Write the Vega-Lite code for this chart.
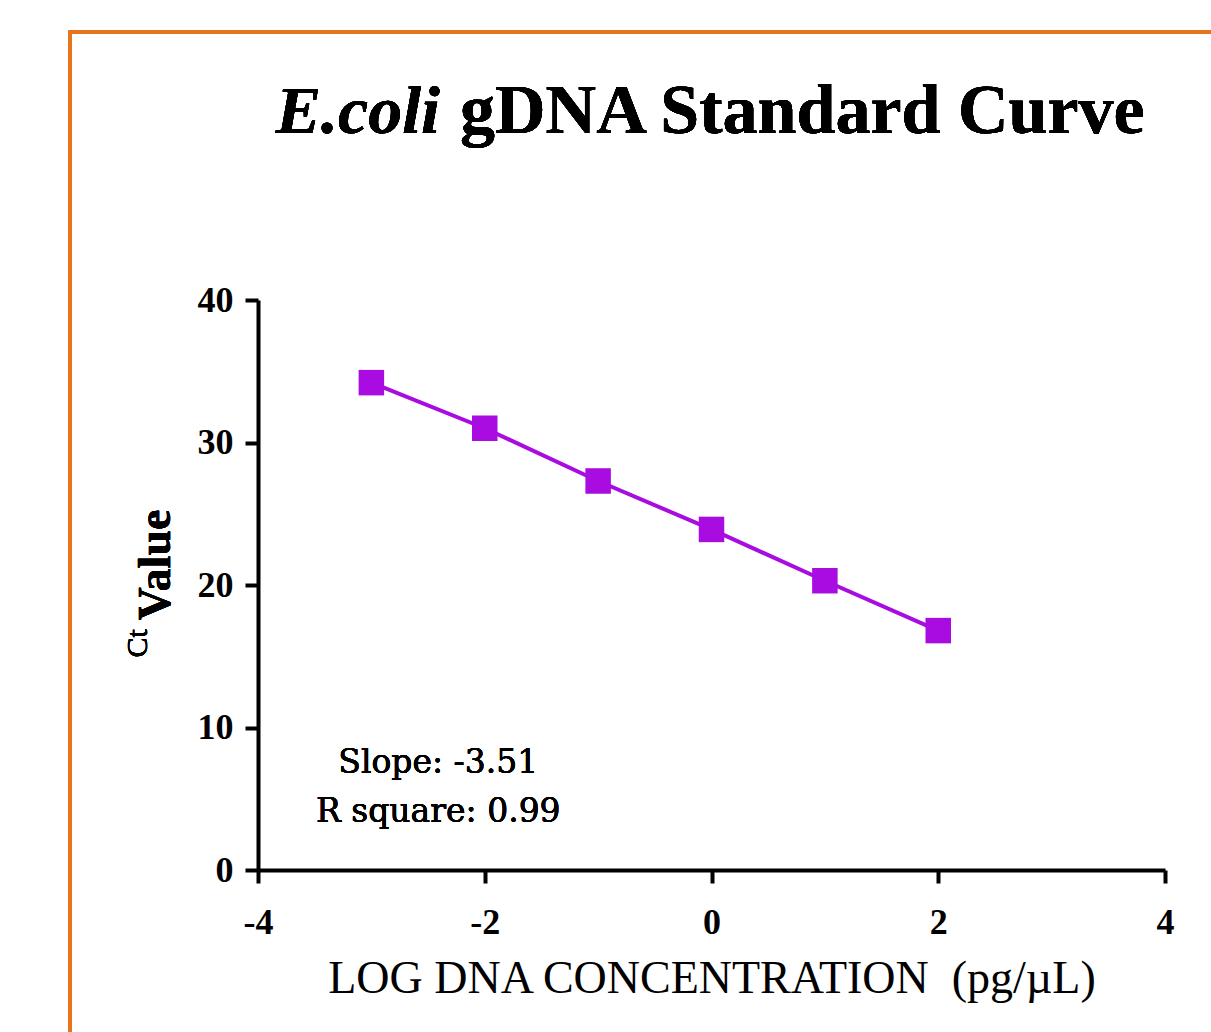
{
  "$schema": "https://vega.github.io/schema/vega-lite/v6.json",
  "autosize": "none",
  "width": 907,
  "height": 570,
  "padding": {"left": 258, "top": 300, "right": 46, "bottom": 162},
  "background": "white",
  "config": {"view": {"stroke": null}},
  "data": {"values": [
    {"logConc": -3, "ct": 34.2},
    {"logConc": -2, "ct": 31.0},
    {"logConc": -1, "ct": 27.3},
    {"logConc": 0, "ct": 23.9},
    {"logConc": 1, "ct": 20.3},
    {"logConc": 2, "ct": 16.8}
  ]},
  "encoding": {
    "x": {"field": "logConc", "type": "quantitative",
      "scale": {"domain": [-4, 4], "nice": false, "zero": false},
      "axis": {"values": [-4, -2, 0, 2, 4], "grid": false, "domainColor": "black", "domainWidth": 4,
        "tickColor": "black", "tickWidth": 4, "tickSize": 13, "labelPadding": 22,
        "labelFont": "Liberation Serif", "labelFontWeight": "bold", "labelFontSize": 36, "labelColor": "black",
        "labelExpr": "'' + datum.value", "labelFlush": false,
        "title": "LOG DNA CONCENTRATION\u00a0\u00a0(pg/µL)", "titleFont": "Liberation Serif", "titleFontWeight": "normal",
        "titleFontSize": 46, "titleColor": "black", "titlePadding": 16}},
    "y": {"field": "ct", "type": "quantitative",
      "scale": {"domain": [0, 40], "nice": false},
      "axis": {"values": [0, 10, 20, 30, 40], "grid": false, "domainColor": "black", "domainWidth": 4,
        "tickColor": "black", "tickWidth": 4, "tickSize": 13, "labelPadding": 12,
        "labelFont": "Liberation Serif", "labelFontWeight": "bold", "labelFontSize": 36, "labelColor": "black",
        "labelFlush": false, "title": null}}
  },
  "layer": [
    {"mark": {"type": "line", "color": "#A80CE0", "strokeWidth": 4}},
    {"mark": {"type": "square", "color": "#A80CE0", "opacity": 1, "filled": true, "size": 650}},
    {"mark": {"type": "rect", "fill": null, "stroke": "#E8731A", "strokeWidth": 3},
      "encoding": {"x": {"datum": -5.658}, "x2": {"datum": 5}, "y": {"datum": 58.81}, "y2": {"datum": -14}}},
    {"mark": {"type": "text", "text": "E.coli", "font": "Liberation Serif", "fontStyle": "italic", "fontWeight": "bold", "fontSize": 68, "align": "right", "baseline": "alphabetic", "color": "black"},
      "encoding": {"x": {"datum": -2.395}, "y": {"datum": 51.72}}},
    {"mark": {"type": "text", "text": "gDNA Standard Curve", "font": "Liberation Serif", "fontWeight": "bold", "fontSize": 70, "align": "left", "baseline": "alphabetic", "color": "black"},
      "encoding": {"x": {"datum": -2.218}, "y": {"datum": 51.72}}},
    {"mark": {"type": "text", "text": "Value", "font": "Liberation Serif", "fontWeight": "bold", "fontSize": 46, "angle": 270, "align": "center", "baseline": "middle", "color": "black"},
      "encoding": {"x": {"datum": -4.90}, "y": {"datum": 21.4}}},
    {"mark": {"type": "text", "text": "Ct", "font": "Liberation Serif", "fontWeight": "normal", "fontSize": 30, "angle": 270, "align": "center", "baseline": "middle", "color": "black"},
      "encoding": {"x": {"datum": -5.06}, "y": {"datum": 15.9}}},
    {"mark": {"type": "text", "text": "Slope: -3.51", "font": "DejaVu Serif", "fontSize": 33, "align": "center", "baseline": "alphabetic", "color": "black"},
      "encoding": {"x": {"datum": -2.41}, "y": {"datum": 6.8}}},
    {"mark": {"type": "text", "text": "R square: 0.99", "font": "DejaVu Serif", "fontSize": 33, "align": "center", "baseline": "alphabetic", "color": "black"},
      "encoding": {"x": {"datum": -2.41}, "y": {"datum": 3.37}}}
  ]
}
